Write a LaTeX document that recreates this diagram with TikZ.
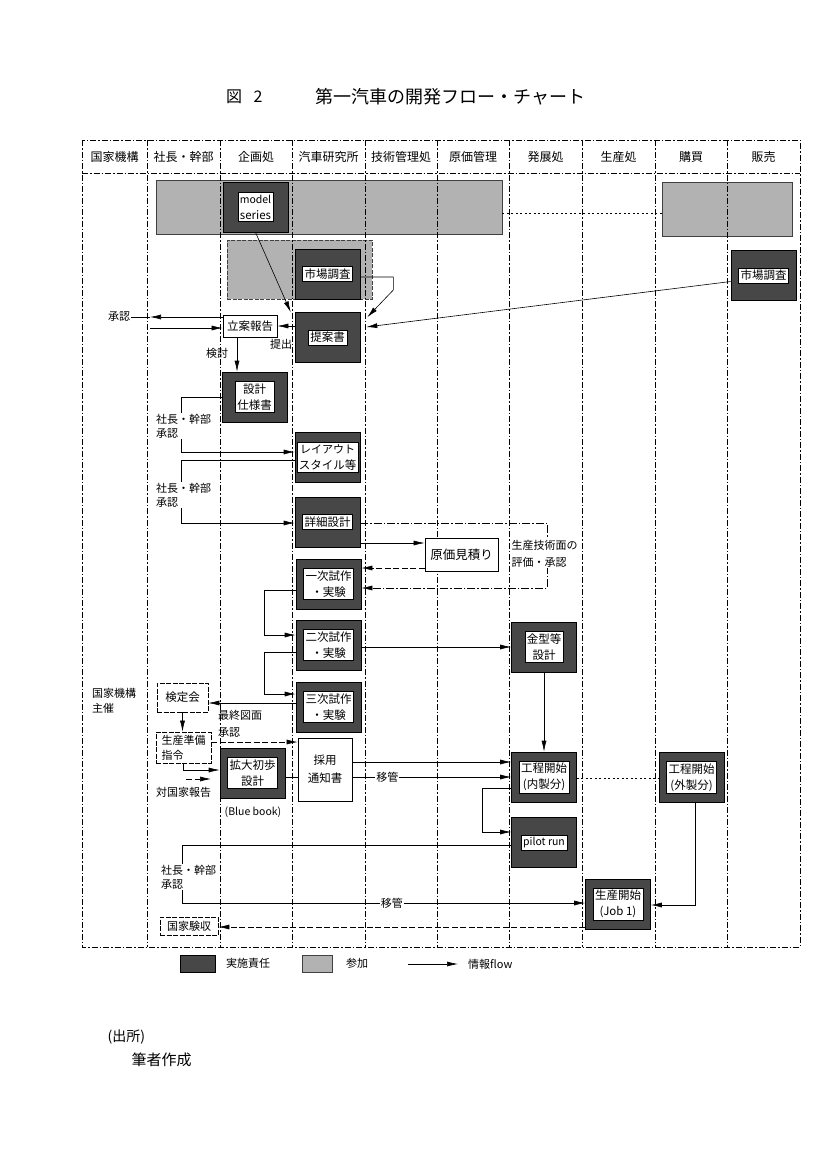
\documentclass[tikz,border=0pt]{standalone}
\usepackage{fontspec}
\setmainfont{Noto Sans CJK JP}
\usetikzlibrary{arrows.meta}
\newcommand\dkbox[4]{\node[darkbox] (#1) at (#2,#3) {};\node[inbox] (#1-in) at (#1.center) {#4};}
\begin{document}
\begin{tikzpicture}[x=1pt,y=-1pt,
  colline/.style={line width=0.6pt, dash pattern=on 6pt off 2pt on 1.5pt off 2pt},
  lightbox/.style={draw=black!75, line width=0.6pt, fill=black!30, inner sep=0},
  darkbox/.style={draw=black, line width=0.6pt, fill=black!72, minimum width=65pt, minimum height=50pt, inner sep=0},
  inbox/.style={draw=black, line width=0.5pt, fill=white, inner sep=2pt, align=center, font=\fontsize{11.5}{16}\selectfont},
  wbox/.style={draw=black, line width=0.7pt, fill=white, inner sep=0, align=center, font=\fontsize{11.5}{16}\selectfont},
  dwbox/.style={wbox, dash pattern=on 5pt off 1.5pt},
  lbl/.style={inner sep=1pt, align=left, font=\fontsize{11}{14}\selectfont},
  wlbl/.style={lbl, fill=white},
  hdr/.style={font=\fontsize{12}{14}\selectfont},
  ln/.style={line width=0.6pt},
  arr/.style={ln, -{Latex[length=11pt,width=5pt]}},
  dsh/.style={dash pattern=on 6pt off 2.5pt},
  dot/.style={dash pattern=on 2pt off 2.5pt}
]
\useasboundingbox (0,0) rectangle (827,1170);
\fill[white] (0,0) rectangle (827,1170);
% title
\node[font=\fontsize{16}{18}\selectfont] (fig) at (234,97) {図};
\node[font=\fontsize{16}{18}\selectfont] (fignum) at (258,97) {2};
\node[font=\fontsize{18}{20}\selectfont, anchor=west, inner sep=0] (ttl) at (315,97) {第一汽車の開発フロー・チャート};
% participation areas
\node[lightbox, minimum width=346pt, minimum height=54pt] (lt1) at (329,207) {};
\node[lightbox, minimum width=145pt, minimum height=59pt, dash pattern=on 4pt off 1.5pt] (lt2) at (299.5,269.5) {};
\node[lightbox, minimum width=130pt, minimum height=54pt] (lt3) at (727,209) {};
% frame and columns
\draw[colline, line width=0.8pt] (82,140) rectangle (800,947);
\draw[colline, line width=0.8pt] (82,173) -- (800,173);
\foreach \x in {147,220,292,365,437,509,582,655,727} \draw[colline] (\x,140) -- (\x,947);
% headers
\node[hdr] (h1) at (114.5,157) {国家機構};
\node[hdr] (h2) at (183.5,157) {社長・幹部};
\node[hdr] (h3) at (256,157) {企画処};
\node[hdr] (h4) at (328.5,157) {汽車研究所};
\node[hdr] (h5) at (401,157) {技術管理処};
\node[hdr] (h6) at (473,157) {原価管理};
\node[hdr] (h7) at (545.5,157) {発展処};
\node[hdr] (h8) at (618.5,157) {生産処};
\node[hdr] (h9) at (691,157) {購買};
\node[hdr] (h10) at (763.5,157) {販売};
% responsible boxes
\dkbox{model}{255.5}{207}{\fontsize{10.5}{13}\selectfont model\\series}
\dkbox{ichibaL}{327.5}{274}{市場調査}
\dkbox{ichibaR}{763.5}{275.5}{市場調査}
\dkbox{teian}{327.5}{337.5}{提案書}
\dkbox{shiyou}{254.5}{397}{設計\\仕様書}
\dkbox{layout}{327.5}{457.5}{\fontsize{11}{16}\selectfont レイアウト\\スタイル等}
\dkbox{shosai}{327.5}{522}{詳細設計}
\dkbox{ichiji}{328.5}{584}{一次試作\\・実験}
\dkbox{niji}{328.5}{645}{二次試作\\・実験}
\dkbox{sanji}{328.5}{707}{三次試作\\・実験}
\dkbox{kanagata}{544}{647}{金型等\\設計}
\dkbox{kakudai}{252.5}{773}{拡大初歩\\設計}
\dkbox{koutei}{544}{777}{工程開始\\(内製分)}
\dkbox{gaisei}{691.5}{777.5}{工程開始\\(外製分)}
\dkbox{pilot}{544}{842.5}{\fontsize{10.5}{13}\selectfont pilot run}
\dkbox{seisan}{618}{904}{生産開始\\(Job 1)}
% white boxes
\node[wbox, minimum width=54pt, minimum height=22pt] (ritsuan) at (250,326) {立案報告};
\node[wbox, minimum width=73pt, minimum height=33pt, font=\fontsize{12.5}{15}\selectfont] (genka) at (461.5,554.5) {原価見積り};
\node[dwbox, minimum width=51pt, minimum height=29pt] (kentei) at (182.5,697.5) {検定会};
\node[dwbox, minimum width=55pt, minimum height=31pt, align=left, font=\fontsize{11}{15}\selectfont] (junbi) at (183.5,747.5) {生産準備\\指令};
\node[wbox, minimum width=54pt, minimum height=63pt, font=\fontsize{11.5}{18}\selectfont] (saiyou) at (325,769.5) {採用\\通知書};
\node[dwbox, minimum width=58pt, minimum height=18pt, font=\fontsize{11}{13}\selectfont] (kokka) at (189,926) {国家験収};
% plain labels
\node[lbl] (shonin) at (119,317) {承認};
\node[lbl] (teishutsu) at (281,344) {提出};
\node[lbl] (kentou) at (217,353) {検討};
\node[lbl, anchor=west, font=\fontsize{11}{17}\selectfont] (saishu) at (217,723.5) {最終図面\\承認};
\node[lbl, anchor=west, font=\fontsize{11}{15}\selectfont] (kshusai) at (91,700.5) {国家機構\\主催};
\node[lbl] (taikokka) at (183.5,792) {対国家報告};
\node[lbl, font=\fontsize{10.5}{13}\selectfont] (blue) at (253,812) {(Blue book)};
% connectors
\draw[arr] (model.south) -- ([xshift=-4pt]teian.north west);
\draw[arr] ([yshift=-3pt]ichibaL.east) -- ++(33,0) -- ++(0,13) -- ([xshift=7pt,yshift=-5pt]teian.north east);
\draw[arr] ([yshift=-6pt]ichibaR.west) -- ([xshift=6pt,yshift=10.5pt]teian.east);
\draw[arr] (teian.west |- ritsuan.east) -- (ritsuan.east);
\coordinate (s1) at (150,317);
\coordinate (s2) at (150,328);
\draw[arr] ([yshift=9pt]ritsuan.west) -- (s1);
\draw[ln] (shonin.east) -- (s1);
\draw[arr] (s2) -- (s2 -| ritsuan.west);
\draw[arr] ([xshift=-13pt]ritsuan.south) -- ([xshift=-13pt]ritsuan.south |- shiyou.north);
\draw[arr] (shiyou.west) -- ++(-40,0) |- ([yshift=5.5pt]layout.west);
\draw[arr] ([yshift=-2.5pt]layout.west) -- ++(-113,0) |- ([yshift=-1pt]shosai.west);
\draw[arr, dash pattern=on 8pt off 2pt on 1.5pt off 2pt] ([yshift=-1pt]shosai.east) -- ++(187,0) |- ([yshift=-4pt]ichiji.east);
\draw[arr] ([yshift=-21pt]shosai.east) -- ([yshift=-21pt]shosai.east -| genka.west);
\draw[arr, dsh] ([yshift=-13.5pt]genka.west) -- ([yshift=-13.5pt]genka.west -| ichiji.east);
\draw[arr] ([yshift=-6pt]ichiji.west) -- ++(-31,0) |- ([yshift=10pt]niji.west);
\draw[arr] ([yshift=-7pt]niji.west) -- ++(-31,0) |- ([yshift=13pt]sanji.west);
\draw[arr] ([yshift=-2pt]niji.east) -- ([yshift=-2pt]niji.east -| kanagata.west);
\draw[arr] (kanagata.south) -- (koutei.north);
\draw[arr] ([yshift=4pt]sanji.west) -- ([yshift=4pt]sanji.west -| kentei.east);
\draw[arr] (kentei.south) -- (kentei.south |- junbi.north);
\draw[arr, dsh] ([yshift=5.5pt]junbi.east) -- ([yshift=5.5pt]junbi.east -| saiyou.west);
\draw[arr] (junbi.south) |- ([yshift=3pt]kakudai.west);
\coordinate (t1) at (186,779);
\coordinate (t2) at (211,779);
\draw[arr, dsh] (t1) -- (t2);
\draw[arr] ([yshift=7.5pt]saiyou.east) -- ([yshift=7.5pt]saiyou.east -| koutei.west);
\draw[ln] ([yshift=-4pt]kakudai.east) -- ([yshift=-4pt]kakudai.east -| saiyou.west);
\draw[arr] ([yshift=-7.5pt]saiyou.east) -- node[wlbl, pos=0.22] (ikan1) {移管} ([yshift=-7.5pt]saiyou.east -| koutei.west);
\draw[ln, dot] ([yshift=-1pt]koutei.east) -- ([yshift=-1pt]koutei.east -| gaisei.west);
\draw[arr] ([yshift=-11pt]koutei.west) -- ++(-29,0) |- ([yshift=10.5pt]pilot.west);
\draw[arr] ([yshift=-2.5pt]pilot.west) -- ++(-329,0) |- node[wlbl, pos=0.76] (ikan2) {移管} ([yshift=1pt]seisan.west);
\draw[arr] ([xshift=3.5pt]gaisei.south) |- ([yshift=-1pt]seisan.east);
\draw[arr, dsh] ([yshift=-23pt]seisan.west) -- ([yshift=-23pt]seisan.west -| kokka.east);
\draw[ln, dot] ([yshift=-6pt]lt1.east) -- ([yshift=-6pt]lt1.east -| lt3.west);
% labels that break lines
\node[wlbl, anchor=west] (appr1) at (155,426) {社長・幹部\\承認};
\node[wlbl, anchor=west] (appr2) at (155,495) {社長・幹部\\承認};
\node[wlbl, anchor=west] (appr3) at (160,877) {社長・幹部\\承認};
\node[wlbl, anchor=west, inner sep=0.5pt, font=\fontsize{11}{17}\selectfont] (seigi) at (511,553.5) {生産技術面の\\評価・承認};
% legend
\node[darkbox, minimum width=35pt, minimum height=17pt] (leg1) at (197.5,963.5) {};
\node[lbl, anchor=west] (leg1t) at (225,963.5) {実施責任};
\node[lightbox, minimum width=30pt, minimum height=17pt] (leg2) at (317,963.5) {};
\node[lbl, anchor=west] (leg2t) at (345,963.5) {参加};
\coordinate (la) at (408,964);
\coordinate (lb) at (458,964);
\draw[arr] (la) -- (lb);
\node[lbl, anchor=west] (leg3t) at (467,964) {情報flow};
% source
\node[anchor=west, font=\fontsize{14}{16}\selectfont] (src) at (104,1037) {(出所)};
\node[anchor=west, font=\fontsize{15}{17}\selectfont] (src2) at (128,1060) {筆者作成};
\end{tikzpicture}
\end{document}
